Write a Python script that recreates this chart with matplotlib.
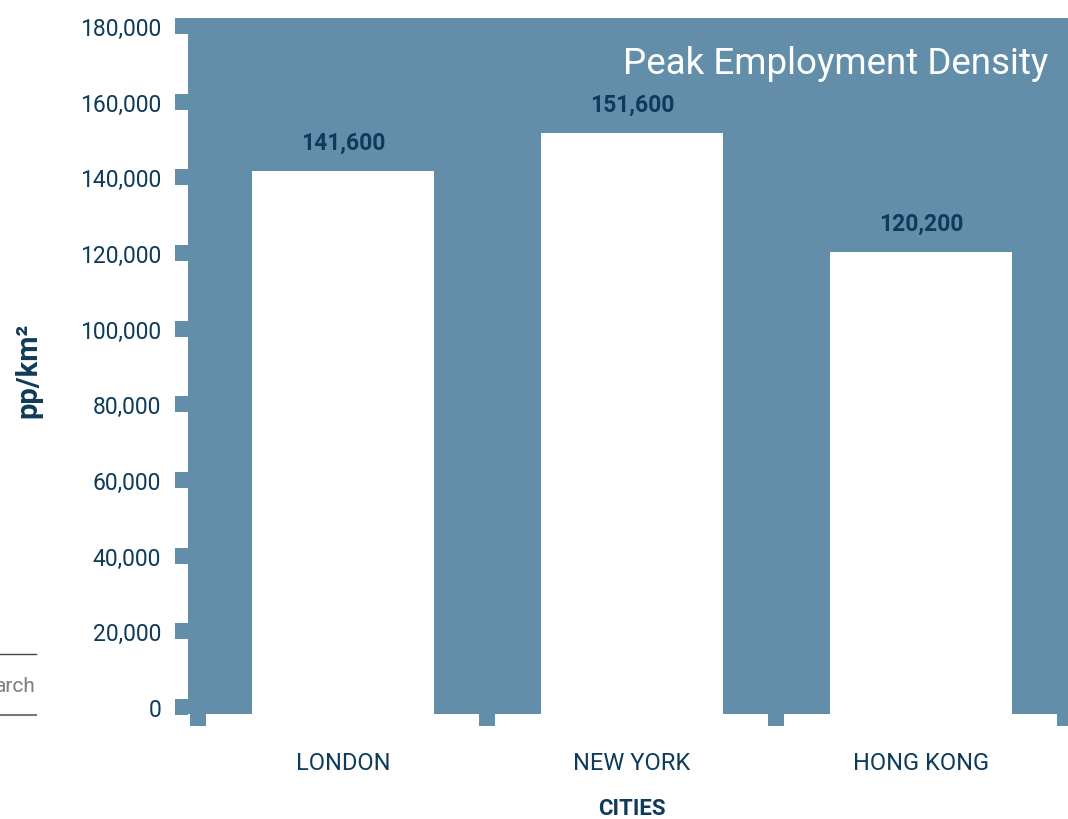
import matplotlib
matplotlib.use("Agg")
import matplotlib.pyplot as plt
from matplotlib.lines import Line2D

cities = ["LONDON", "NEW YORK", "HONG KONG"]
density = [141600, 151600, 120200]
y_ticks = [0, 20000, 40000, 60000, 80000, 100000, 120000, 140000, 160000, 180000]

blue = "#628eaa"
navy = "#0e3b5a"

plt.rcParams['font.family'] = ['Roboto', 'DejaVu Sans']

fig = plt.figure(figsize=(10.68, 8.2), dpi=100)
ax = fig.add_axes([188 / 1068, 1 - 715 / 820, 880 / 1068, 696 / 820])
ax.set_facecolor(blue)

ymin, ymax = -1850, 182100
ax.set_ylim(ymin, ymax)
ax.set_xlim(-0.536, 2.509)

x = list(range(len(cities)))
# white bars run down to the bottom of the blue panel
ax.bar(x, [v - ymin for v in density], bottom=ymin, width=0.63,
       color="white", zorder=2)

for xi, v in zip(x, density):
    ax.annotate(f"{v:,}", (xi, v), xytext=(0, 16), textcoords="offset points",
                ha="center", va="baseline", fontsize=16.5, fontweight="bold",
                color=navy)

for s in ax.spines.values():
    s.set_visible(False)

ax.set_yticks(y_ticks)
ax.set_yticklabels([f"{t:,}" for t in y_ticks])
ax.tick_params(axis="y", length=9.4, width=11.5, color=blue, pad=10,
               labelsize=16.5, labelcolor=navy)

ax.set_xticks(x)
ax.set_xticklabels(cities)
ax.set_xticks([-0.5, 0.5, 1.5, 2.5], minor=True)
ax.tick_params(axis="x", which="major", length=0, pad=27,
               labelsize=17, labelcolor=navy)
ax.tick_params(axis="x", which="minor", length=8.6, width=11.5, color=blue)
for t in ax.get_xticklabels() + ax.get_yticklabels():
    t.set_clip_on(False)

ax.text(0.977, 0.935, "Peak Employment Density", transform=ax.transAxes,
        ha="right", va="center", fontsize=26.5, color="white")

fig.text(632 / 1068, 1 - 809 / 820, "CITIES", ha="center", va="center",
         fontsize=16, fontweight="bold", color=navy)
fig.text(28 / 1068, 1 - 370 / 820, "pp/km²", ha="center", va="center",
         rotation=90, fontsize=21, fontweight="bold", color=navy)

# clipped fragment of a neighbouring element at the left edge
fig.text(36 / 1068, 1 - 687 / 820, "arch", ha="right", va="center",
         fontsize=15, color="#7d7d7d")
fig.add_artist(Line2D([0, 36 / 1068], [1 - 655 / 820] * 2, color="#444444", lw=1))
fig.add_artist(Line2D([0, 36 / 1068], [1 - 716 / 820] * 2, color="#777777", lw=1.5))

fig.savefig("out.png", dpi=100)
